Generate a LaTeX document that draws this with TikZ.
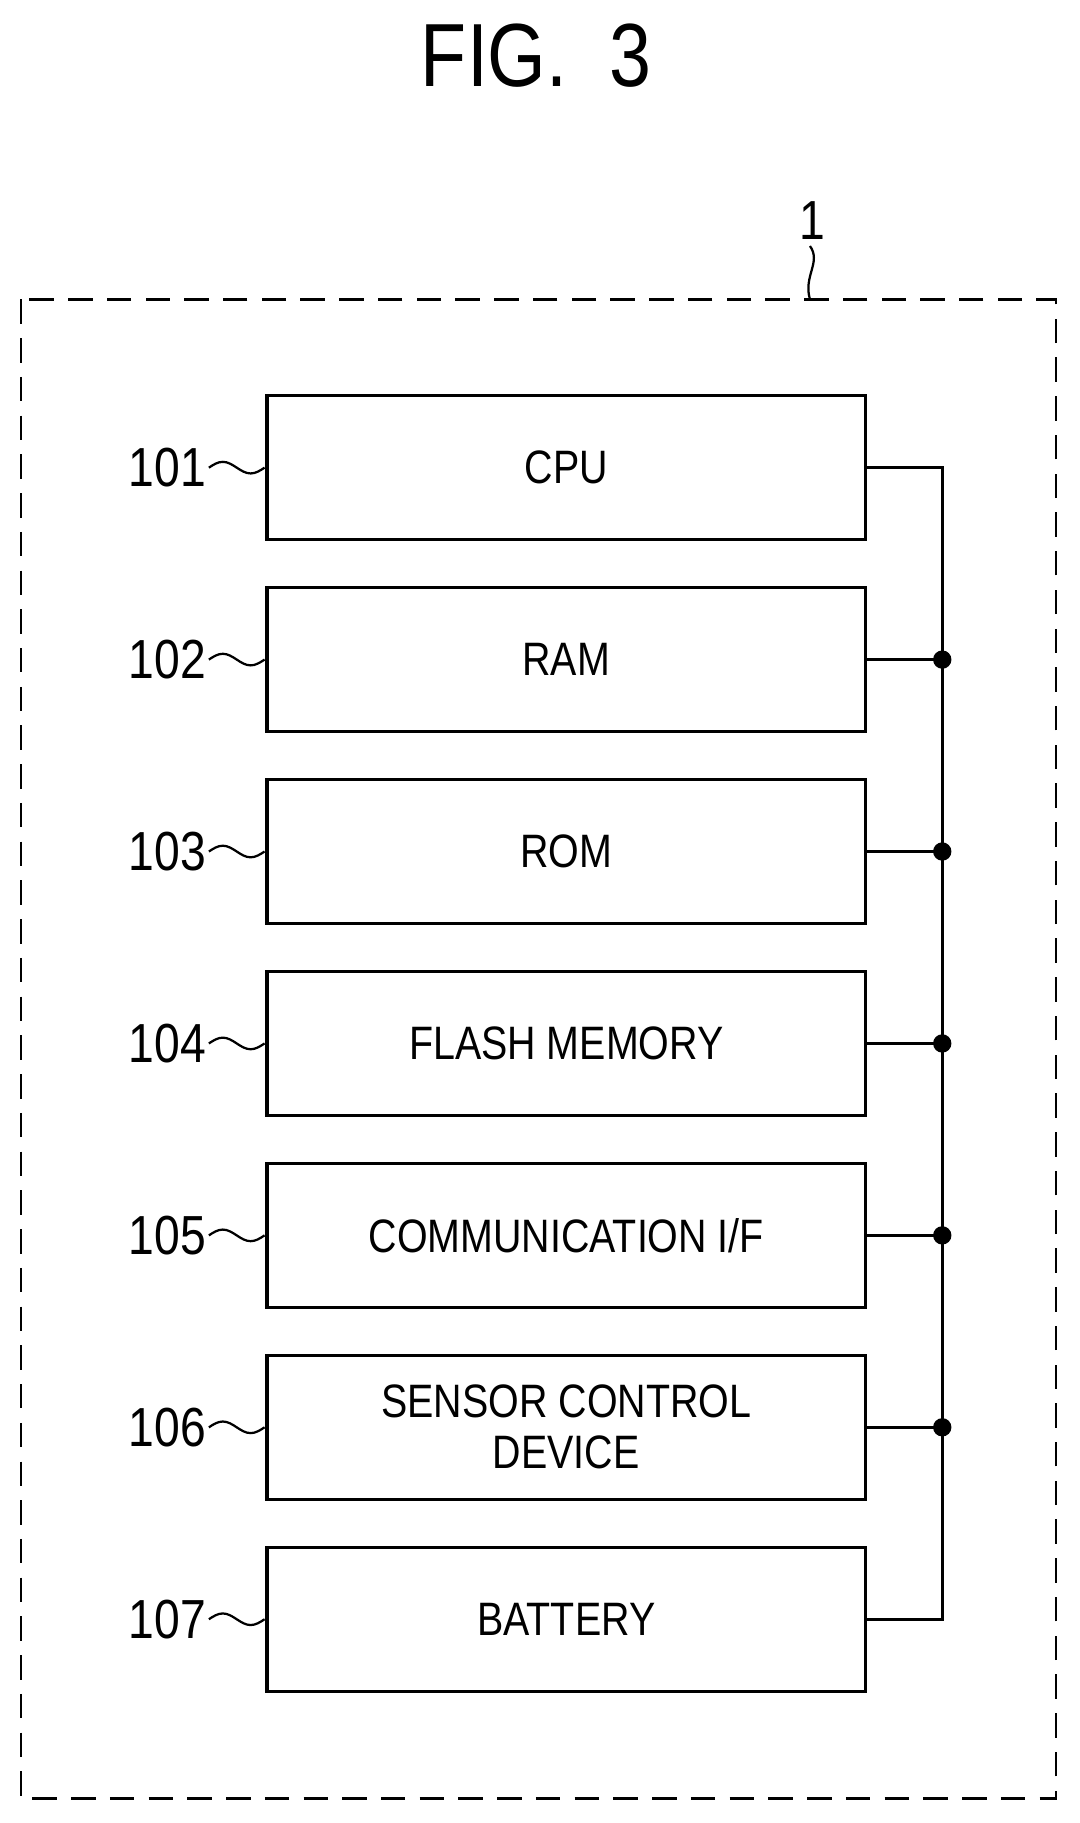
\documentclass[tikz,border=0pt]{standalone}
\usepackage{fontspec}
\setmainfont{Liberation Sans}[FakeStretch=0.84]
\usetikzlibrary{positioning}

\tikzset{
  block/.style={draw, line width=1.6pt, minimum width=10.32cm, minimum height=2.48cm,
                align=center, font=\fontsize{23}{25}\selectfont, inner sep=0pt},
  refnum/.style={font=\fontsize{27}{29}\selectfont, anchor=east, inner sep=0pt},
  bus/.style={line width=1.6pt},
  joint/.style={circle, fill, inner sep=0pt, minimum size=9pt}
}
\newcommand{\squig}[1]{%
  \draw[line width=1.1pt] (#1) ++(2,0) sin ++(12,-5) cos ++(12,5) sin ++(12,5) cos ++(12,-5);}

\begin{document}
\begin{tikzpicture}[x=0.02cm, y=-0.02cm]
\useasboundingbox (0,0) rectangle (930,1571);

\node[font=\fontsize{44}{46}\selectfont] (title) at (462,48) {FIG.\ \ 3};

% outer unit
\draw[line width=1.3pt, dash pattern=on 12pt off 7pt] (18,258) rectangle (910,1550);
\node[refnum, anchor=center] (unit) at (700,190) {1};
\draw[line width=1.1pt] (698,212) .. controls (708,226) and (692,238) .. (698,258);

% blocks
\foreach \name/\txt/\num [count=\i from 0] in
  {cpu/CPU/101, ram/RAM/102, rom/ROM/103, flash/FLASH MEMORY/104,
   comm/COMMUNICATION I\slash F/105, sensor/SENSOR CONTROL\\DEVICE/106, battery/BATTERY/107}{
  \node[block] (\name) at (488,{403+165.4*\i}) {\txt};
  \node[refnum] (n\num) at (178,{403+165.4*\i}) {\num};
  \coordinate (s\num) at (n\num.east);
  \squig{s\num}
  \coordinate (b\i) at (812,{403+165.4*\i});
}

% bus
\draw[bus] (cpu.east) -- (b0) -- (b6) -- (battery.east);
\foreach \name/\i in {ram/1, rom/2, flash/3, comm/4, sensor/5}{
  \draw[bus] (\name.east) -- (b\i);
  \node[joint] at (b\i) {};
}
\end{tikzpicture}
\end{document}
